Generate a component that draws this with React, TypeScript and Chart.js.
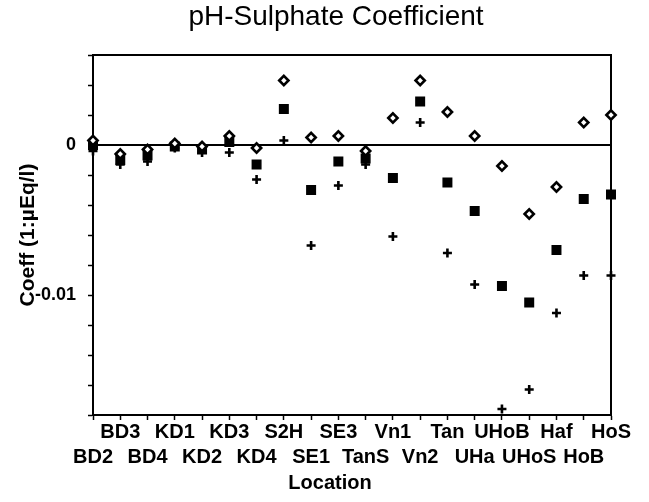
import React, { useEffect, useRef } from 'react';
import { Chart, registerables } from 'chart.js';

Chart.register(...registerables);

const categories = ['BD2', 'BD3', 'BD4', 'KD1', 'KD2', 'KD3', 'KD4', 'S2H', 'SE1', 'SE3', 'TanS', 'Vn1', 'Vn2', 'Tan', 'UHa', 'UHoB', 'UHoS', 'Haf', 'HoB', 'HoS'];

// diamonds (upper bound)
const upper = [0.0003, -0.0006, -0.0003, 0.0001, -0.0001, 0.0006, -0.0002, 0.0043, 0.0005, 0.0006, -0.0004, 0.0018, 0.0043, 0.0022, 0.0006, -0.0014, -0.0046, -0.0028, 0.0015, 0.002];
// filled squares (coefficient)
const mean = [0.0, -0.001, -0.0007, -0.0001, -0.0003, 0.0002, -0.0013, 0.0024, -0.003, -0.0011, -0.0009, -0.0022, 0.0029, -0.0025, -0.0044, -0.0094, -0.0105, -0.007, -0.0036, -0.0033];
// plus signs (lower bound)
const lower = [-0.0004, -0.0013, -0.0011, -0.0002, -0.0005, -0.0005, -0.0023, 0.0003, -0.0067, -0.0027, -0.0013, -0.0061, 0.0015, -0.0072, -0.0093, -0.0176, -0.0163, -0.0112, -0.0087, -0.0087];

const yLabelValues = [0, -0.01];
const yLabelTexts = ['0', '-0.01'];

const chartTitle = 'pH-Sulphate Coefficient';
const xTitle = 'Location';
const yTitle = 'Coeff (1:µEq/l)';

const FONT = '"Liberation Sans", Arial, Helvetica, sans-serif';

const framePlugin = {
  id: 'frame',
  beforeDatasetsDraw(chart: any) {
    const { ctx, chartArea } = chart;
    ctx.save();
    ctx.strokeStyle = '#000';
    ctx.lineWidth = 2;
    ctx.beginPath();
    ctx.moveTo(chartArea.left, chartArea.top);
    ctx.lineTo(chartArea.right, chartArea.top);
    ctx.lineTo(chartArea.right, chartArea.bottom);
    ctx.stroke();
    ctx.restore();
  },
  afterDraw(chart: any) {
    const { ctx } = chart;
    ctx.save();
    ctx.fillStyle = '#000';
    ctx.font = `bold 20px ${FONT}`;
    ctx.textAlign = 'center';
    ctx.textBaseline = 'middle';
    ctx.fillText(xTitle, 330, 483);
    ctx.restore();
  },
};

const isZero = (v: number) => Math.abs(v) < 1e-9;

export default function App() {
  const ref = useRef<HTMLCanvasElement | null>(null);

  useEffect(() => {
    if (!ref.current) return;
    const chart = new Chart(ref.current, {
      type: 'line',
      data: {
        labels: categories,
        datasets: [
          {
            label: 'Upper',
            data: upper,
            showLine: false,
            pointStyle: 'rectRot',
            pointRadius: 4.6,
            pointBorderWidth: 2.6,
            pointBackgroundColor: '#fff',
            pointBorderColor: '#000',
            clip: false,
          },
          {
            label: 'Coeff',
            data: mean,
            showLine: false,
            pointStyle: 'rect',
            pointRadius: 6,
            pointBorderWidth: 1.5,
            pointBackgroundColor: '#000',
            pointBorderColor: '#000',
            clip: false,
          },
          {
            label: 'Lower',
            data: lower,
            showLine: false,
            pointStyle: 'cross',
            pointRadius: 4.5,
            pointBorderWidth: 2.6,
            pointBackgroundColor: '#000',
            pointBorderColor: '#000',
            clip: false,
          },
        ],
      },
      options: {
        animation: false,
        responsive: false,
        devicePixelRatio: 1,
        layout: { padding: { left: 23, right: 0, top: 0, bottom: 0 } },
        plugins: {
          legend: { display: false },
          tooltip: { enabled: false },
          title: {
            display: true,
            text: chartTitle,
            color: '#000',
            font: { family: FONT, size: 28, weight: 'normal', lineHeight: 1.2 },
            padding: { top: 0, bottom: 21.4 },
          },
        },
        scales: {
          x: {
            type: 'category',
            offset: false,
            afterFit: (s: any) => {
              s.height = 87;
            },
            ticks: {
              autoSkip: false,
              maxRotation: 0,
              minRotation: 0,
              padding: 0,
              color: '#000',
              font: { family: FONT, size: 20, weight: 'bold', lineHeight: 1.25 },
              callback: (_v: any, i: number) => (i % 2 === 0 ? ['', categories[i]] : [categories[i]]),
            },
            grid: {
              drawOnChartArea: false,
              tickLength: 5,
              tickColor: '#000',
              tickWidth: 1.5,
            },
            border: { display: true, color: '#000', width: 2 },
            title: { display: false },
          },
          y: {
            position: 'left',
            min: -0.018,
            max: 0.006,
            afterFit: (s: any) => {
              s.width = 70;
            },
            ticks: {
              stepSize: 0.002,
              autoSkip: false,
              padding: 12,
              color: '#000',
              font: { family: FONT, size: 18, weight: 'bold' },
              callback: (v: any) => {
                const n = Number(v);
                for (let k = 0; k < yLabelValues.length; k++) {
                  if (Math.abs(n - yLabelValues[k]) < 1e-9) return yLabelTexts[k];
                }
                return '';
              },
            },
            grid: {
              drawOnChartArea: true,
              color: (c: any) => (c.tick && isZero(c.tick.value) ? '#000' : 'rgba(0,0,0,0)'),
              lineWidth: (c: any) => (c.tick && isZero(c.tick.value) ? 2 : 1),
              tickColor: '#000',
              tickLength: 5,
              tickWidth: 1.5,
            },
            border: { display: true, color: '#000', width: 2 },
            title: {
              display: true,
              text: yTitle,
              color: '#000',
              font: { family: FONT, size: 21, weight: 'bold', lineHeight: 1.2 },
              padding: { top: -7.6, bottom: 0 },
            },
          },
          yRight: {
            position: 'right',
            display: true,
            min: -0.018,
            max: 0.006,
            afterFit: (s: any) => {
              s.width = 38;
            },
            ticks: { display: false },
            grid: { display: false, drawTicks: false },
            border: { display: false },
            title: { display: false },
          },
        },
      },
      plugins: [framePlugin],
    } as any);
    return () => chart.destroy();
  }, []);

  return (
    <div style={{ position: 'absolute', left: 0, top: 0, width: 649, height: 502, background: '#fff' }}>
      <canvas ref={ref} width={649} height={502} style={{ display: 'block', width: 649, height: 502 }} />
    </div>
  );
}
